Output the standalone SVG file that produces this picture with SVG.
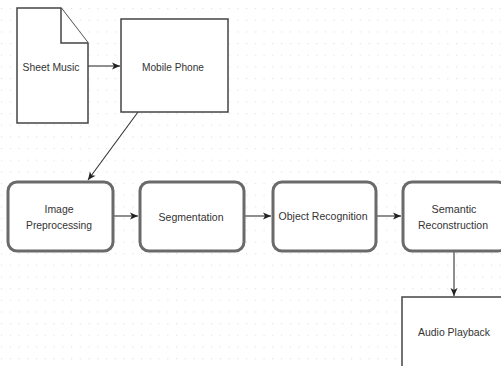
<svg xmlns="http://www.w3.org/2000/svg" width="501" height="366" viewBox="0 0 501 366">
<defs>
<pattern id="grid" x="1" y="8" width="8.75" height="11.67" patternUnits="userSpaceOnUse">
<rect x="0" y="0" width="1.2" height="1.2" fill="#e3e3e3"/>
</pattern>
<marker id="arr" markerUnits="userSpaceOnUse" markerWidth="10" markerHeight="10" viewBox="0 0 10 10" refX="9" refY="5" orient="auto">
<path d="M1,1.5 L9,5 L1,8.5 L3,5 Z" fill="#222"/>
</marker>
</defs>
<style>
text{font-family:"Liberation Sans",Arial,sans-serif;font-size:11px;fill:#333;text-anchor:middle;dominant-baseline:central}
.thin{fill:#fff;stroke:#444;stroke-width:1.5}
.proc{fill:#fff;stroke:#6a6a6a;stroke-width:3}
.conn{fill:none;stroke:#333;stroke-width:1.1;marker-end:url(#arr)}
</style>
<rect width="501" height="366" fill="#fff"/>
<rect width="501" height="366" fill="url(#grid)"/>
<g id="connectors">
<line class="conn" x1="88" y1="66" x2="120" y2="66"/>
<line class="conn" x1="138" y1="112" x2="88" y2="180"/>
<line class="conn" x1="113" y1="216" x2="138" y2="216"/>
<line class="conn" x1="244" y1="216" x2="271" y2="216"/>
<line class="conn" x1="376" y1="216" x2="401" y2="216"/>
<line class="conn" x1="454" y1="251" x2="454" y2="296"/>
</g>
<g id="sheet-music">
<path class="thin" d="M17,8 H61 L88,43 V123 H17 Z"/>
<path class="thin" d="M61,8 V43 H88" fill="none"/>
<text x="51" y="67" textLength="57" lengthAdjust="spacingAndGlyphs">Sheet Music</text>
</g>
<g id="mobile-phone">
<rect class="thin" x="121" y="19" width="107" height="93"/>
<text x="173" y="67" textLength="62" lengthAdjust="spacingAndGlyphs">Mobile Phone</text>
</g>
<g id="image-preprocessing">
<rect class="proc" x="8" y="182" width="105" height="69" rx="9"/>
<text x="59" y="209" textLength="29" lengthAdjust="spacingAndGlyphs">Image</text>
<text x="59" y="225" textLength="66" lengthAdjust="spacingAndGlyphs">Preprocessing</text>
</g>
<g id="segmentation">
<rect class="proc" x="140" y="182" width="104" height="69" rx="9"/>
<text x="191" y="217" textLength="65" lengthAdjust="spacingAndGlyphs">Segmentation</text>
</g>
<g id="object-recognition">
<rect class="proc" x="273" y="182" width="103" height="69" rx="9"/>
<text x="323" y="216" textLength="89" lengthAdjust="spacingAndGlyphs">Object Recognition</text>
</g>
<g id="semantic-reconstruction">
<rect class="proc" x="403" y="182" width="104" height="69" rx="9"/>
<text x="454" y="209" textLength="45" lengthAdjust="spacingAndGlyphs">Semantic</text>
<text x="453" y="225" textLength="70" lengthAdjust="spacingAndGlyphs">Reconstruction</text>
</g>
<g id="audio-playback">
<rect class="thin" x="402" y="297" width="106" height="72"/>
<text x="454" y="332" textLength="72" lengthAdjust="spacingAndGlyphs">Audio Playback</text>
</g>
</svg>
